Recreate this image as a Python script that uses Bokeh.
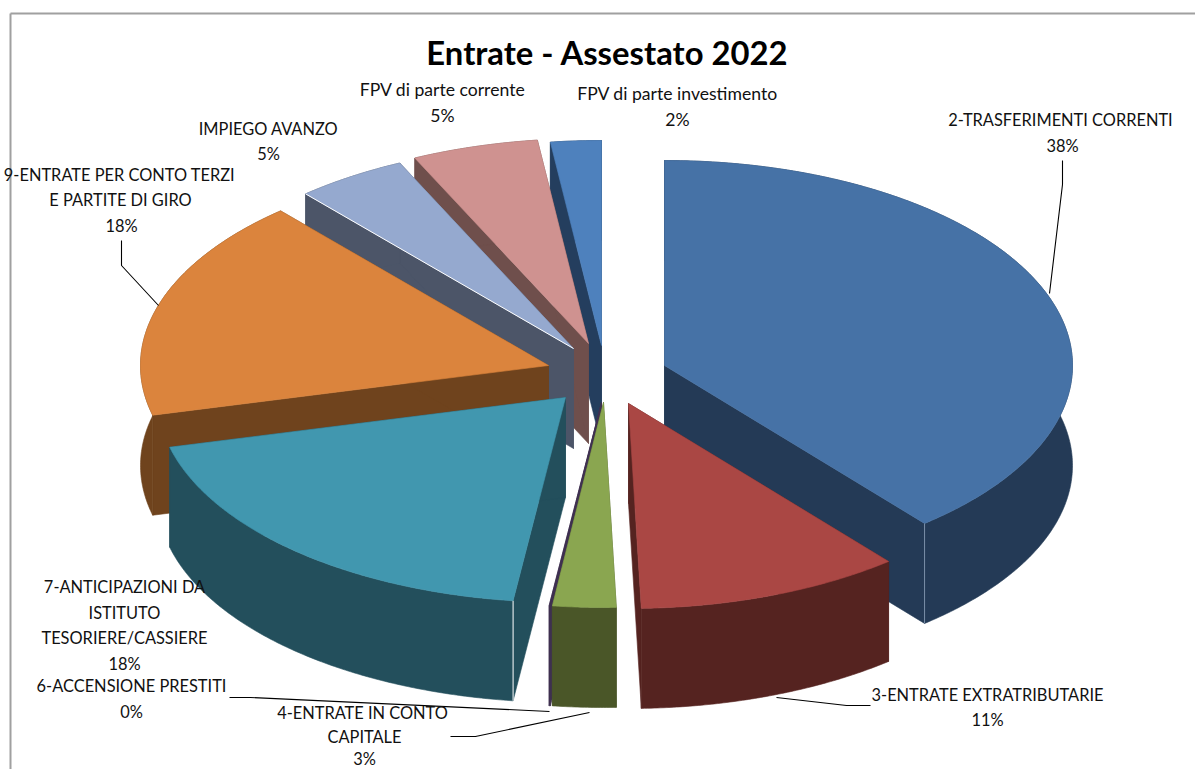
import math
from bokeh.plotting import figure
from bokeh.models import Range1d, ColumnDataSource
from bokeh.core.properties import value
from bokeh.embed import file_html
from bokeh.resources import INLINE

# ---- data: shares as they appear in the drawn (perspective-distorted) pie, and printed labels
categories = ["2-TRASFERIMENTI CORRENTI", "3-ENTRATE EXTRATRIBUTARIE", "4-ENTRATE IN CONTO CAPITALE",
              "6-ACCENSIONE PRESTITI", "7-ANTICIPAZIONI DA ISTITUTO TESORIERE/CASSIERE",
              "9-ENTRATE PER CONTO TERZI E PARTITE DI GIRO", "IMPIEGO AVANZO",
              "FPV di parte corrente", "FPV di parte investimento"]
drawn_shares = [39.0, 10.5, 2.5, 0.05, 19.05, 17.5, 4.4, 5.0, 2.0]
percent_labels = ["38%", "11%", "3%", "0%", "18%", "18%", "5%", "5%", "2%"]

# ---- styles and layout
top_colors = ["#4672A6", "#AA4744", "#8AA650", "#3F3151", "#4197AF", "#DB843D", "#95A9CF", "#CF9290", "#4E81BD"]
side_colors = ["#243A56", "#552320", "#4A5628", "#3F3151", "#234F5C", "#6F431D", "#4C5568", "#6F4F4C", "#243E5E"]
CX, CY, RX, RY, DEPTH = 600, 372, 408, 205, 100
offset_x = [64, 28, 3, 1, -35, -52, -27, -12, 1]
offset_y = [-7, 31, 30, 30, 25, -7, -24, -29, -27]
draw_order = [8, 7, 6, 5, 4, 0, 3, 2, 1]
FONT = "Lato"
LABEL_SIZE = "16.4px"
MIXED_CASE_SIZE = "17.6px"

# starting angles accumulated from the shares
starts, acc = [], 0.0
for s in drawn_shares:
    starts.append(acc)
    acc += s


def rim_point(i, pct):
    t = math.radians(pct * 3.6)
    return CX + offset_x[i] + RX * math.sin(t), CY + offset_y[i] - RY * math.cos(t)


xs, ys, fills = [], [], []


def add(poly, color):
    xs.append([q[0] for q in poly])
    ys.append([q[1] for q in poly])
    fills.append(color)


edge_x, edge_y, edge_c = [], [], []
for i in draw_order:
    a, b = starts[i], starts[i] + drawn_shares[i]
    n = max(2, int(drawn_shares[i] * 8))
    arc = [rim_point(i, a + (b - a) * k / n) for k in range(n + 1)]
    apex = (CX + offset_x[i], CY + offset_y[i])
    down = lambda q: (q[0], q[1] + DEPTH)
    add([apex, arc[0], down(arc[0]), down(apex)], side_colors[i])
    add([apex, arc[-1], down(arc[-1]), down(apex)], side_colors[i])
    add(arc + [down(q) for q in reversed(arc)], side_colors[i])
    add([apex] + arc, top_colors[i])
    if i == 0:
        q = arc[-1]
        edge_x.append([q[0], q[0]]); edge_y.append([q[1], q[1] + DEPTH]); edge_c.append("#7C8FA8")
    if i == 4:
        q = arc[0]
        edge_x.append([q[0], q[0]]); edge_y.append([q[1], q[1] + DEPTH]); edge_c.append("#FFFFFF")
    if i == 6:
        q = arc[0]
        edge_x.append([apex[0], q[0]]); edge_y.append([apex[1], q[1]]); edge_c.append("#FFFFFF")

p = figure(width=1195, height=769, output_backend="svg", toolbar_location=None,
           x_range=Range1d(0, 1195), y_range=Range1d(769, 0), min_border=0,
           x_axis_type=None, y_axis_type=None, outline_line_color=None)
p.grid.visible = False
p.background_fill_color = "#FFFFFF"
p.border_fill_color = "#FFFFFF"

# chart frame
p.multi_line([[10, 10], [10, 1195]], [[769, 13], [13, 13]], line_color="#A0A0A0", line_width=2)

p.patches(xs, ys, fill_color=fills, line_color=fills, line_width=0.6)
p.multi_line(edge_x, edge_y, line_color=edge_c, line_width=1)

# leader lines
leaders_x = [[1062, 1062, 1049], [121, 121, 158], [229, 250, 549], [450, 475, 589], [776, 846, 870]]
leaders_y = [[160, 184, 293], [240, 265, 305], [697, 697, 711], [736, 736, 712], [697, 705, 705]]
p.multi_line(leaders_x, leaders_y, line_color="#000000", line_width=1.1)

# label layout: lines of text around the pie
label_lines = [
    (categories[0], 1060, 119), (percent_labels[0], 1062, 145),
    (categories[1], 987, 694), (percent_labels[1], 987, 719),
    ("4-ENTRATE IN CONTO", 362, 712), ("CAPITALE", 364, 736), (percent_labels[2], 364, 758),
    (categories[3], 131, 685), (percent_labels[3], 131, 711),
    ("7-ANTICIPAZIONI DA", 124, 586), ("ISTITUTO", 124, 612), ("TESORIERE/CASSIERE", 124, 637), (percent_labels[4], 124, 663),
    ("9-ENTRATE PER CONTO TERZI", 119, 174), ("E PARTITE DI GIRO", 120, 199), (percent_labels[5], 121, 225),
    (categories[6], 268, 128), (percent_labels[6], 268, 153),
]
src = ColumnDataSource(dict(t=[q[0] for q in label_lines], x=[q[1] for q in label_lines], y=[q[2] for q in label_lines]))
p.text("x", "y", text="t", source=src, text_font=value(FONT), text_font_size=value(LABEL_SIZE),
       text_color="#111111", text_align="center", text_baseline="middle")
p.text([442, 442, 677, 677], [89, 115, 93, 119],
       text=[categories[7], percent_labels[7], categories[8], percent_labels[8]],
       text_font=value(FONT), text_font_size=value(MIXED_CASE_SIZE),
       text_color="#111111", text_align="center", text_baseline="middle")
p.text([607], [52], text=["Entrate - Assestato 2022"], text_font=value(FONT), text_font_size=value("32.8px"),
       text_font_style="bold", text_color="#000000", text_align="center", text_baseline="middle")

open("out.html", "w").write(file_html(p, INLINE))
